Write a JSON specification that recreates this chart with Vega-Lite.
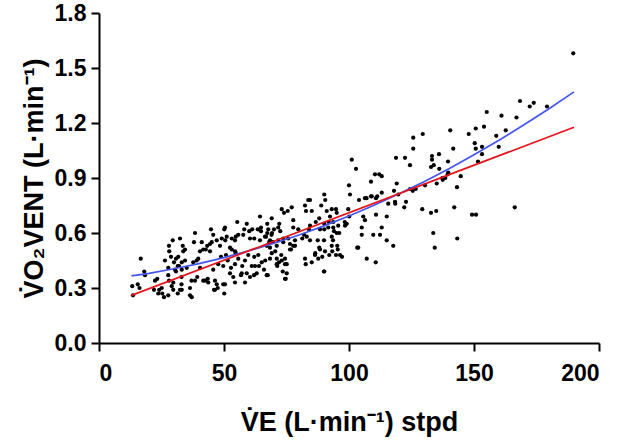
{
  "$schema": "https://vega.github.io/schema/vega-lite/v6.json",
  "width": 500,
  "height": 330,
  "autosize": {"type": "none"},
  "padding": {"left": 99, "top": 13, "right": 22, "bottom": 97},
  "background": "white",
  "config": {
    "view": {"stroke": null},
    "font": "Liberation Sans",
    "axis": {
      "grid": false,
      "domainColor": "black",
      "domainWidth": 2,
      "tickColor": "black",
      "tickWidth": 2,
      "tickSize": 8,
      "labelFont": "Liberation Sans",
      "labelFontWeight": "bold",
      "labelFontSize": 23,
      "labelColor": "black",
      "titleFont": "Liberation Sans",
      "titleFontWeight": "bold",
      "titleFontSize": 27,
      "titleColor": "black"
    }
  },
  "datasets": {
    "pts": [
      {"x":13.3,"y":0.31},{"x":13.6,"y":0.26},{"x":15.5,"y":0.32},{"x":16.2,"y":0.30},{"x":16.7,"y":0.46},{"x":18.1,"y":0.39},{"x":18.4,"y":0.37},{"x":22.4,"y":0.34},{"x":23.3,"y":0.35},{"x":22.0,"y":0.29},
      {"x":23.7,"y":0.27},{"x":24.1,"y":0.29},{"x":25.1,"y":0.30},{"x":25.3,"y":0.27},{"x":26.0,"y":0.25},{"x":26.4,"y":0.45},{"x":27.7,"y":0.41},{"x":27.7,"y":0.37},{"x":28.0,"y":0.34},{"x":28.0,"y":0.53},
      {"x":28.1,"y":0.50},{"x":29.5,"y":0.56},{"x":28.8,"y":0.47},{"x":30.0,"y":0.44},{"x":30.4,"y":0.40},{"x":29.7,"y":0.29},{"x":29.7,"y":0.33},{"x":30.8,"y":0.46},{"x":31.7,"y":0.47},{"x":32.0,"y":0.42},
      {"x":33.0,"y":0.32},{"x":32.4,"y":0.29},{"x":33.7,"y":0.50},{"x":33.0,"y":0.36},{"x":30.8,"y":0.39},{"x":27.7,"y":0.26},{"x":32.4,"y":0.57},{"x":33.5,"y":0.53},{"x":33.1,"y":0.44},{"x":31.5,"y":0.42},
      {"x":33.1,"y":0.40},{"x":29.1,"y":0.31},{"x":31.5,"y":0.27},{"x":34.4,"y":0.51},{"x":34.4,"y":0.45},{"x":35.1,"y":0.41},{"x":36.4,"y":0.30},{"x":37.1,"y":0.25},{"x":38.4,"y":0.60},{"x":38.0,"y":0.55},
      {"x":39.7,"y":0.46},{"x":39.1,"y":0.45},{"x":37.7,"y":0.44},{"x":40.4,"y":0.41},{"x":39.3,"y":0.36},{"x":38.4,"y":0.34},{"x":37.0,"y":0.34},{"x":40.4,"y":0.50},{"x":41.7,"y":0.51},{"x":42.7,"y":0.51},
      {"x":44.4,"y":0.54},{"x":45.1,"y":0.55},{"x":45.7,"y":0.59},{"x":47.1,"y":0.56},{"x":48.4,"y":0.53},{"x":49.1,"y":0.57},{"x":50.5,"y":0.56},{"x":51.1,"y":0.58},{"x":50.4,"y":0.63},{"x":41.7,"y":0.34},
      {"x":43.5,"y":0.35},{"x":43.7,"y":0.33},{"x":46.4,"y":0.34},{"x":47.1,"y":0.32},{"x":47.5,"y":0.30},{"x":49.7,"y":0.32},{"x":50.1,"y":0.27},{"x":46.4,"y":0.29},{"x":45.7,"y":0.40},{"x":47.7,"y":0.43},
      {"x":49.7,"y":0.42},{"x":48.8,"y":0.47},{"x":50.8,"y":0.48},{"x":51.5,"y":0.45},{"x":53.1,"y":0.51},{"x":54.7,"y":0.49},{"x":55.7,"y":0.46},{"x":54.4,"y":0.43},{"x":52.8,"y":0.41},{"x":53.7,"y":0.36},
      {"x":52.4,"y":0.38},{"x":57.3,"y":0.42},{"x":58.4,"y":0.45},{"x":59.7,"y":0.48},{"x":61.1,"y":0.42},{"x":62.4,"y":0.42},{"x":64.0,"y":0.42},{"x":59.1,"y":0.38},{"x":56.8,"y":0.37},{"x":60.4,"y":0.36},
      {"x":63.1,"y":0.38},{"x":63.7,"y":0.48},{"x":62.1,"y":0.47},{"x":54.4,"y":0.33},{"x":58.4,"y":0.33},{"x":53.1,"y":0.57},{"x":54.4,"y":0.56},{"x":54.7,"y":0.58},{"x":55.7,"y":0.59},{"x":57.7,"y":0.59},
      {"x":58.1,"y":0.62},{"x":60.1,"y":0.61},{"x":61.3,"y":0.62},{"x":63.5,"y":0.62},{"x":64.8,"y":0.63},{"x":64.8,"y":0.61},{"x":64.4,"y":0.69},{"x":72.1,"y":0.65},{"x":59.1,"y":0.65},{"x":55.3,"y":0.66},
      {"x":67.3,"y":0.65},{"x":67.3,"y":0.60},{"x":69.2,"y":0.60},{"x":50.1,"y":0.62},{"x":44.8,"y":0.62},{"x":41.1,"y":0.55},{"x":43.3,"y":0.53},{"x":44.4,"y":0.50},{"x":52.4,"y":0.52},{"x":54.4,"y":0.50},
      {"x":60.4,"y":0.57},{"x":62.1,"y":0.57},{"x":64.4,"y":0.56},{"x":66.4,"y":0.58},{"x":68.1,"y":0.55},{"x":71.1,"y":0.53},{"x":73.7,"y":0.55},{"x":75.7,"y":0.57},{"x":76.4,"y":0.51},{"x":78.4,"y":0.53},
      {"x":70.5,"y":0.50},{"x":72.9,"y":0.48},{"x":71.1,"y":0.46},{"x":74.4,"y":0.46},{"x":75.1,"y":0.43},{"x":74.7,"y":0.35},{"x":90.0,"y":0.39},{"x":103.7,"y":0.52},{"x":107.1,"y":0.46},{"x":67.1,"y":0.37},
      {"x":71.3,"y":0.42},{"x":65.1,"y":0.44},{"x":66.0,"y":0.40},{"x":57.1,"y":0.38},{"x":62.0,"y":0.37},{"x":50.4,"y":0.32},{"x":42.4,"y":0.34},{"x":46.0,"y":0.29},{"x":36.4,"y":0.26},{"x":33.1,"y":0.29},
      {"x":90.1,"y":0.81},{"x":90.5,"y":0.78},{"x":83.7,"y":0.78},{"x":82.4,"y":0.75},{"x":82.8,"y":0.72},{"x":85.1,"y":0.72},{"x":73.1,"y":0.73},{"x":74.0,"y":0.71},{"x":75.5,"y":0.72},{"x":77.1,"y":0.74},
      {"x":69.1,"y":0.68},{"x":91.1,"y":0.72},{"x":93.1,"y":0.73},{"x":94.8,"y":0.73},{"x":95.1,"y":0.71},{"x":92.4,"y":0.69},{"x":88.1,"y":0.68},{"x":86.7,"y":0.66},{"x":77.7,"y":0.67},{"x":77.7,"y":0.63},
      {"x":79.7,"y":0.62},{"x":71.7,"y":0.63},{"x":72.5,"y":0.61},{"x":70.0,"y":0.62},{"x":67.7,"y":0.62},{"x":69.0,"y":0.59},{"x":66.8,"y":0.58},{"x":93.7,"y":0.66},{"x":95.7,"y":0.64},{"x":93.7,"y":0.63},
      {"x":91.7,"y":0.63},{"x":90.1,"y":0.65},{"x":90.1,"y":0.62},{"x":88.4,"y":0.62},{"x":84.4,"y":0.64},{"x":82.0,"y":0.59},{"x":83.1,"y":0.58},{"x":84.4,"y":0.56},{"x":87.5,"y":0.56},{"x":90.0,"y":0.56},
      {"x":93.1,"y":0.58},{"x":95.1,"y":0.60},{"x":93.1,"y":0.53},{"x":96.4,"y":0.48},{"x":95.5,"y":0.51},{"x":92.1,"y":0.48},{"x":88.4,"y":0.51},{"x":90.4,"y":0.50},{"x":87.7,"y":0.46},{"x":89.3,"y":0.47},
      {"x":86.4,"y":0.48},{"x":82.4,"y":0.46},{"x":82.7,"y":0.43},{"x":85.1,"y":0.44},{"x":90.1,"y":0.39},{"x":78.4,"y":0.56},{"x":76.4,"y":0.54},{"x":73.7,"y":0.57},{"x":71.7,"y":0.56},{"x":69.5,"y":0.55},
      {"x":68.4,"y":0.56},{"x":68.4,"y":0.52},{"x":67.1,"y":0.53},{"x":69.1,"y":0.49},{"x":68.4,"y":0.46},{"x":66.5,"y":0.45},{"x":76.8,"y":0.51},{"x":77.7,"y":0.53},{"x":73.1,"y":0.45},{"x":71.1,"y":0.43},
      {"x":72.0,"y":0.44},{"x":74.4,"y":0.43},{"x":75.1,"y":0.38},{"x":73.5,"y":0.39},{"x":74.4,"y":0.35},{"x":67.5,"y":0.37},{"x":88.9,"y":0.75},{"x":84.4,"y":0.78},{"x":84.0,"y":0.62},{"x":91.9,"y":0.66},
      {"x":94.0,"y":0.61},{"x":96.1,"y":0.60},{"x":93.6,"y":0.56},{"x":81.3,"y":0.57},{"x":88.1,"y":0.52},{"x":95.3,"y":0.53},{"x":93.3,"y":0.50},{"x":86.5,"y":0.49},{"x":94.8,"y":0.48},{"x":97.2,"y":0.47},
      {"x":98.3,"y":0.66},{"x":98.4,"y":0.64},
      {"x":100.0,"y":0.86},{"x":100.4,"y":0.81},{"x":101.1,"y":1.00},{"x":102.8,"y":0.95},{"x":110.4,"y":0.92},{"x":112.1,"y":0.92},{"x":113.1,"y":0.91},{"x":108.8,"y":0.88},{"x":106.4,"y":0.79},{"x":104.0,"y":0.78},
      {"x":107.0,"y":0.79},{"x":109.1,"y":0.80},{"x":110.8,"y":0.79},{"x":113.1,"y":0.82},{"x":119.1,"y":0.87},{"x":118.0,"y":0.83},{"x":119.7,"y":0.81},{"x":115.7,"y":0.76},{"x":118.4,"y":0.77},{"x":122.1,"y":0.74},
      {"x":122.8,"y":0.77},{"x":124.4,"y":0.84},{"x":125.5,"y":0.83},{"x":126.7,"y":0.84},{"x":129.3,"y":0.73},{"x":99.7,"y":0.73},{"x":99.1,"y":0.65},{"x":100.1,"y":0.69},{"x":105.7,"y":0.69},{"x":106.4,"y":0.67},
      {"x":110.8,"y":0.70},{"x":115.1,"y":0.69},{"x":105.1,"y":0.63},{"x":105.1,"y":0.59},{"x":109.7,"y":0.59},{"x":112.4,"y":0.59},{"x":113.1,"y":0.63},{"x":115.1,"y":0.56},{"x":117.7,"y":0.53},{"x":103.3,"y":0.52},
      {"x":110.7,"y":0.44},{"x":129.5,"y":1.14},{"x":125.7,"y":1.12},{"x":125.7,"y":1.06},{"x":124.4,"y":0.97},{"x":122.4,"y":1.01},{"x":118.8,"y":1.01},{"x":108.8,"y":0.80},{"x":111.3,"y":0.80},{"x":118.5,"y":0.76},
      {"x":130.4,"y":0.86},{"x":132.8,"y":0.96},{"x":133.9,"y":0.97},{"x":133.2,"y":1.02},{"x":133.2,"y":1.00},{"x":136.0,"y":1.03},{"x":135.1,"y":0.87},{"x":132.8,"y":0.71},{"x":134.9,"y":0.72},{"x":133.7,"y":0.60},
      {"x":134.3,"y":0.52},{"x":136.1,"y":0.95},{"x":137.5,"y":0.89},{"x":139.5,"y":0.92},{"x":139.6,"y":0.99},{"x":138.5,"y":0.90},{"x":140.5,"y":1.16},{"x":141.7,"y":1.06},{"x":142.1,"y":0.74},{"x":143.2,"y":0.85},
      {"x":144.7,"y":0.91},{"x":143.3,"y":0.57},{"x":147.9,"y":1.14},{"x":149.2,"y":0.70},{"x":150.8,"y":0.70},{"x":150.3,"y":1.09},{"x":150.7,"y":1.06},{"x":150.7,"y":1.17},{"x":151.6,"y":0.99},{"x":153.2,"y":1.07},
      {"x":153.2,"y":1.03},{"x":154.0,"y":1.18},{"x":155.1,"y":1.26},{"x":158.9,"y":1.13},{"x":159.9,"y":1.07},{"x":161.0,"y":1.24},{"x":162.7,"y":1.16},{"x":166.3,"y":0.74},{"x":167.0,"y":1.23},{"x":168.4,"y":1.32},
      {"x":172.3,"y":1.29},{"x":173.9,"y":1.31},{"x":179.2,"y":1.29},{"x":189.7,"y":1.58},{"x":139.7,"y":0.93},{"x":137.3,"y":0.90}
    ],
    "red": [
      {"x":13,"y":0.26},{"x":190,"y":1.177}
    ],
    "blue": [
      {"x":13,"y":0.366},{"x":20,"y":0.380},{"x":30,"y":0.405},{"x":40,"y":0.433},{"x":50,"y":0.466},{"x":60,"y":0.503},{"x":70,"y":0.544},{"x":80,"y":0.589},{"x":90,"y":0.639},{"x":100,"y":0.693},
      {"x":110,"y":0.751},{"x":120,"y":0.814},{"x":130,"y":0.880},{"x":140,"y":0.951},{"x":150,"y":1.027},{"x":160,"y":1.106},{"x":170,"y":1.190},{"x":180,"y":1.278},{"x":190,"y":1.370}
    ]
  },
  "layer": [
    {
      "data": {"name": "pts"},
      "mark": {"type": "circle", "size": 18, "color": "black", "opacity": 1},
      "encoding": {
        "x": {
          "field": "x", "type": "quantitative",
          "scale": {"domain": [0, 200], "nice": false, "zero": false},
          "axis": {"values": [0, 50, 100, 150, 200], "title": "V̇E (L·min⁻¹) stpd", "titlePadding": 24, "labelPadding": 11}
        },
        "y": {
          "field": "y", "type": "quantitative",
          "scale": {"domain": [0, 1.8], "nice": false, "zero": false},
          "axis": {"values": [0, 0.3, 0.6, 0.9, 1.2, 1.5, 1.8], "format": ".1f", "title": "V̇O₂VENT (L·min⁻¹)", "titlePadding": 6, "labelPadding": 5}
        }
      }
    },
    {
      "data": {"name": "blue"},
      "mark": {"type": "line", "color": "#4455ee", "strokeWidth": 1.7},
      "encoding": {
        "x": {"field": "x", "type": "quantitative"},
        "y": {"field": "y", "type": "quantitative"}
      }
    },
    {
      "data": {"name": "red"},
      "mark": {"type": "line", "color": "#e4141b", "strokeWidth": 1.7},
      "encoding": {
        "x": {"field": "x", "type": "quantitative"},
        "y": {"field": "y", "type": "quantitative"}
      }
    }
  ]
}
